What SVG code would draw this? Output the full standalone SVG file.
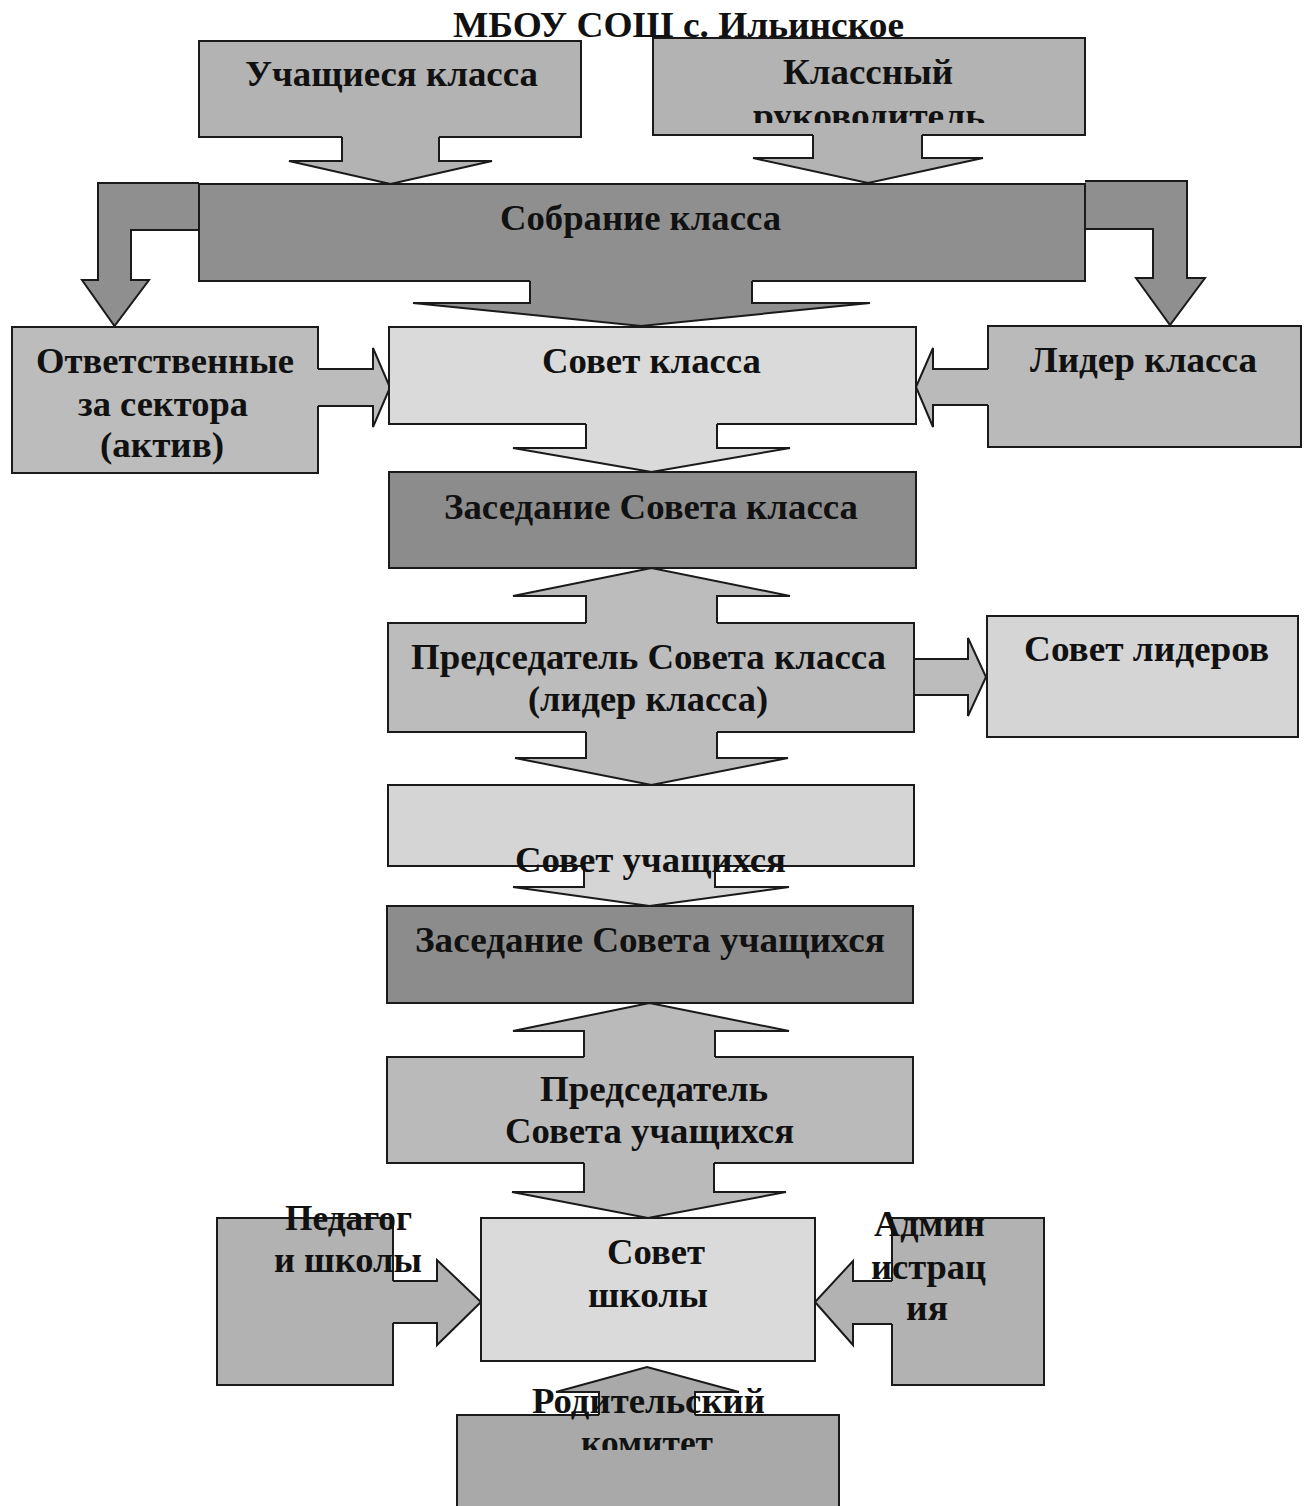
<svg xmlns="http://www.w3.org/2000/svg" width="1306" height="1506" viewBox="0 0 1306 1506">
<style>
.ol{fill:none;stroke:#1a1a1a;stroke-width:2;stroke-linejoin:miter}
.nf{stroke:none}
.bx{stroke:#1a1a1a;stroke-width:2}
.arr{stroke:#1a1a1a;stroke-width:2;stroke-linejoin:miter}
.t{font-family:"Liberation Serif","Times New Roman",serif;font-weight:bold;font-size:36px;fill:#111}
.g1{fill:#b3b3b3}
.gd{fill:#8f8f8f}
.gk{fill:#8c8c8c}
.gm{fill:#bcbcbc}
.gn{fill:#bababa}
.gl{fill:#dadada}
.gs{fill:#d5d5d5}
.gq{fill:#b2b2b2}
.gp{fill:#a9a9a9}
</style>
<defs>
<clipPath id="clipRuk"><rect x="653" y="38" width="432" height="85"/></clipPath>
<clipPath id="clipKom"><rect x="457" y="1420" width="382" height="30"/></clipPath>
</defs>
<rect x="0" y="0" width="1306" height="1506" fill="#ffffff"/>

<g id="connectors">
<path class="arr g1" d="M342 137 L342 161 L289 161 L390.5 184 L492 161 L439 161 L439 137"/>
<path class="arr g1" d="M813 135 L813 158 L753 158 L868 183 L983 158 L922 158 L922 135"/>
<path class="arr gd" d="M530 281 L530 303 L413 303 L641 326 L870 303 L752 303 L752 281"/>
<path class="arr gd" d="M199 183 L98 183 L98 280 L82 280 L114.5 326 L149 280 L131 280 L131 230 L199 230"/>
<path class="arr gd" d="M1085 181 L1187 181 L1187 278 L1205 278 L1170 325 L1136 278 L1153 278 L1153 229 L1085 229"/>
<path class="arr gm" d="M318 369 L373 369 L373 348 L390 387.5 L373 427 L373 406 L318 406"/>
<path class="arr gn" d="M988 369 L933 369 L933 348 L916 387 L933 427 L933 405 L988 405"/>
<path class="arr gl" d="M586 424 L586 448 L513 448 L651.5 472 L790 448 L717 448 L717 424"/>
<path class="arr gm" d="M586 623 L586 596 L513 596 L651.5 568 L790 596 L717 596 L717 623"/>
<path class="arr gm" d="M586 732 L586 758 L515 758 L651.5 785 L788 758 L717 758 L717 732"/>
<path class="arr gm" d="M914 659 L968 659 L968 638 L986 677 L968 716 L968 695 L914 695"/>
<path class="arr gs" d="M584 866 L584 887 L513 887 L649.5 906 L789 887 L715 887 L715 866"/>
<path class="arr gn" d="M584 1057 L584 1031 L513 1031 L649.5 1003 L789 1031 L715 1031 L715 1057"/>
<path class="arr gn" d="M584 1163 L584 1192 L512 1192 L648 1218 L786 1192 L714 1192 L714 1163"/>
<path class="arr gq" d="M393 1281 L437 1281 L437 1260 L481 1302 L437 1345 L437 1323 L393 1323"/>
<path class="arr gq" d="M892 1281 L853 1281 L853 1261 L815 1302 L853 1345 L853 1324 L892 1324"/>
<path class="arr gp" d="M599 1415 L599 1392 L556 1392 L647 1367 L739 1392 L695 1392 L695 1415"/>
</g>

<g id="title">
<text class="t" x="453" y="37" textLength="451" lengthAdjust="spacingAndGlyphs">МБОУ СОШ с. Ильинское</text>
</g>

<g id="n-uchashchiesya">
<rect class="nf g1" x="199" y="41" width="382" height="96"/>
<path class="ol" d="M342 137 L199 137 L199 41 L581 41 L581 137 L439 137"/>
<text class="t" x="245" y="86" textLength="293" lengthAdjust="spacingAndGlyphs">Учащиеся класса</text>
</g>

<g id="n-klassny">
<rect class="nf g1" x="653" y="38" width="432" height="97"/>
<path class="ol" d="M813 135 L653 135 L653 38 L1085 38 L1085 135 L922 135"/>
<text class="t" x="783" y="84" textLength="170" lengthAdjust="spacingAndGlyphs">Классный</text>
<text class="t" x="753" y="128" textLength="232" lengthAdjust="spacingAndGlyphs" clip-path="url(#clipRuk)">руководитель</text>
</g>

<g id="n-sobranie">
<rect class="nf gd" x="199" y="184" width="886" height="97"/>
<path class="ol" d="M530 281 L199 281 L199 184 L1085 184 L1085 281 L752 281"/>
<text class="t" x="500" y="230" textLength="281" lengthAdjust="spacingAndGlyphs">Собрание класса</text>
</g>

<g id="n-otvetstvennye">
<rect class="nf gm" x="12" y="327" width="306" height="146"/>
<path class="ol" d="M318 369 L318 327 L12 327 L12 473 L318 473 L318 406"/>
<text class="t" x="36" y="373" textLength="258" lengthAdjust="spacingAndGlyphs">Ответственные</text>
<text class="t" x="78" y="416" textLength="170" lengthAdjust="spacingAndGlyphs">за сектора</text>
<text class="t" x="100" y="457" textLength="124" lengthAdjust="spacingAndGlyphs">(актив)</text>
</g>

<g id="n-sovet-klassa">
<rect class="nf gl" x="389" y="327" width="527" height="97"/>
<path class="ol" d="M586 424 L389 424 L389 327 L916 327 L916 424 L717 424"/>
<text class="t" x="542" y="373" textLength="219" lengthAdjust="spacingAndGlyphs">Совет класса</text>
</g>

<g id="n-lider">
<rect class="nf gn" x="988" y="326" width="313" height="121"/>
<path class="ol" d="M988 369 L988 326 L1301 326 L1301 447 L988 447 L988 405"/>
<text class="t" x="1030" y="372" textLength="227" lengthAdjust="spacingAndGlyphs">Лидер класса</text>
</g>

<g id="n-zasedanie-sk">
<rect class="bx gk" x="389" y="472" width="527" height="96"/>
<text class="t" x="444" y="519" textLength="414" lengthAdjust="spacingAndGlyphs">Заседание Совета класса</text>
</g>

<g id="n-predsedatel-sk">
<rect class="nf gm" x="388" y="623" width="526" height="109"/>
<path class="ol" d="M586 623 L388 623 L388 732 L586 732 M717 623 L914 623 L914 732 L717 732"/>
<text class="t" x="411" y="669" textLength="475" lengthAdjust="spacingAndGlyphs">Председатель Совета класса</text>
<text class="t" x="528" y="711" textLength="240" lengthAdjust="spacingAndGlyphs">(лидер класса)</text>
</g>

<g id="n-sovet-liderov">
<rect class="bx gs" x="987" y="616" width="311" height="121"/>
<text class="t" x="1024" y="661" textLength="245" lengthAdjust="spacingAndGlyphs">Совет лидеров</text>
</g>

<g id="n-sovet-uchashchikhsya">
<rect class="nf gs" x="388" y="785" width="526" height="81"/>
<path class="ol" d="M584 866 L388 866 L388 785 L914 785 L914 866 L715 866"/>
<text class="t" x="515" y="872" textLength="271" lengthAdjust="spacingAndGlyphs">Совет учащихся</text>
</g>

<g id="n-zasedanie-su">
<rect class="bx gk" x="387" y="906" width="526" height="97"/>
<text class="t" x="415" y="952" textLength="470" lengthAdjust="spacingAndGlyphs">Заседание Совета учащихся</text>
</g>

<g id="n-predsedatel-su">
<rect class="nf gn" x="387" y="1057" width="526" height="106"/>
<path class="ol" d="M584 1057 L387 1057 L387 1163 L584 1163 M715 1057 L913 1057 L913 1163 L714 1163"/>
<text class="t" x="540" y="1101" textLength="228" lengthAdjust="spacingAndGlyphs">Председатель</text>
<text class="t" x="505" y="1143" textLength="289" lengthAdjust="spacingAndGlyphs">Совета учащихся</text>
</g>

<g id="n-sovet-shkoly">
<rect class="bx gl" x="481" y="1218" width="334" height="143"/>
<text class="t" x="607" y="1264" textLength="98" lengthAdjust="spacingAndGlyphs">Совет</text>
<text class="t" x="588" y="1307" textLength="120" lengthAdjust="spacingAndGlyphs">школы</text>
</g>

<g id="n-pedagogi">
<rect class="nf gq" x="217" y="1218" width="176" height="167"/>
<path class="ol" d="M393 1281 L393 1218 L217 1218 L217 1385 L393 1385 L393 1323"/>
<text class="t" x="285" y="1230" textLength="127" lengthAdjust="spacingAndGlyphs">Педагог</text>
<text class="t" x="274" y="1272" textLength="148" lengthAdjust="spacingAndGlyphs">и школы</text>
</g>

<g id="n-administratsiya">
<rect class="nf gq" x="892" y="1218" width="152" height="167"/>
<path class="ol" d="M892 1281 L892 1218 L1044 1218 L1044 1385 L892 1385 L892 1324"/>
<text class="t" x="874" y="1236" textLength="111" lengthAdjust="spacingAndGlyphs">Админ</text>
<text class="t" x="871" y="1279" textLength="115" lengthAdjust="spacingAndGlyphs">истрац</text>
<text class="t" x="906" y="1320" textLength="42" lengthAdjust="spacingAndGlyphs">ия</text>
</g>

<g id="n-roditelsky">
<rect class="nf gp" x="457" y="1415" width="382" height="100"/>
<path class="ol" d="M599 1415 L457 1415 L457 1515 M695 1415 L839 1415 L839 1515"/>
<text class="t" x="532" y="1413" textLength="233" lengthAdjust="spacingAndGlyphs">Родительский</text>
<text class="t" x="581" y="1455" textLength="132" lengthAdjust="spacingAndGlyphs" clip-path="url(#clipKom)">комитет</text>
</g>
</svg>
